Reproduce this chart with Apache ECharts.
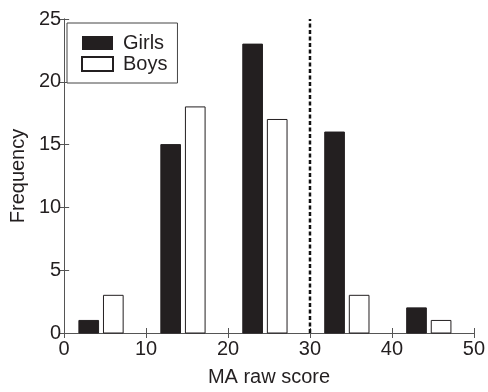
<!DOCTYPE html>
<html><head><meta charset="utf-8">
<script src="https://cdn.jsdelivr.net/npm/echarts@6/dist/echarts.min.js"></script>
<style>html,body{margin:0;padding:0;background:#fff}#c{width:488px;height:392px}</style>
</head><body><div id="c"></div>
<script>
var girlsX = [3, 13, 23, 33, 43];
var girlsY = [1, 15, 23, 16, 2];
var boysX = [6, 16, 26, 36, 46];
var boysY = [3, 18, 17, 3, 1];
var binWidth = 2.4;
var cutoff = 30;
var xTicks = [0, 10, 20, 30, 40, 50];
var yTicks = [0, 5, 10, 15, 20, 25];

var font = 'Liberation Sans, Arial, sans-serif';
var axisColor = '#555';
function pairs(xs, ys){ return xs.map(function(x,i){ return [x, ys[i]]; }); }
function rectItem(fill){
  return function(params, api){
    var x = api.value(0), y = api.value(1);
    var p0 = api.coord([x - binWidth/2, y]);
    var p1 = api.coord([x + binWidth/2, 0]);
    return {type:'rect', shape:{x:p0[0], y:p0[1], width:p1[0]-p0[0], height:p1[1]-p0[1]},
      style:{fill:fill, stroke:'#231f20', lineWidth:1}};
  };
}
var chart = echarts.init(document.getElementById('c'), null, {renderer:'canvas'});
chart.setOption({
  animation:false,
  grid:{left:63, right:13, top:19, bottom:55},
  legend:{
    orient:'vertical', left:67, top:23,
    padding:[10, 10, 9, 14], itemGap:1, itemWidth:31, itemHeight:14,
    borderColor:'#444', borderWidth:1, backgroundColor:'#fff',
    textStyle:{fontFamily:font, fontSize:20, lineHeight:20, color:'#231f20', padding:[0,0,0,5]},
    data:[{name:'Girls', icon:'rect'}, {name:'Boys', icon:'rect'}]
  },
  xAxis:[{
    type:'value', min:0, max:50, interval:10,
    name:'MA raw score', nameLocation:'middle', nameGap:34,
    nameTextStyle:{fontFamily:font, fontSize:20, color:'#231f20'},
    axisLine:{show:true, lineStyle:{color:axisColor, width:1}},
    axisTick:{show:true, inside:true, length:5, lineStyle:{color:axisColor}},
    axisLabel:{fontFamily:font, fontSize:20, color:'#231f20', margin:6},
    splitLine:{show:false}
  },{
    type:'value', min:0, max:50, interval:10, position:'top',
    axisLine:{show:true, lineStyle:{color:axisColor, width:1}},
    axisTick:{show:true, inside:true, length:5, lineStyle:{color:axisColor}},
    axisLabel:{show:false}, splitLine:{show:false}
  }],
  yAxis:[{
    type:'value', min:0, max:25, interval:5,
    name:'Frequency', nameLocation:'middle', nameGap:36, nameRotate:90,
    nameTextStyle:{fontFamily:font, fontSize:20, color:'#231f20'},
    axisLine:{show:true, lineStyle:{color:axisColor, width:1}},
    axisTick:{show:true, inside:true, length:5, lineStyle:{color:axisColor}},
    axisLabel:{fontFamily:font, fontSize:20, color:'#231f20', margin:3},
    splitLine:{show:false}
  },{
    type:'value', min:0, max:25, interval:5, position:'right',
    axisLine:{show:true, lineStyle:{color:axisColor, width:1}},
    axisTick:{show:true, inside:true, length:5, lineStyle:{color:axisColor}},
    axisLabel:{show:false}, splitLine:{show:false}
  }],
  series:[
    {name:'Girls', type:'custom', xAxisIndex:0, yAxisIndex:0, itemStyle:{color:'#231f20', borderColor:'#231f20'},
     renderItem:rectItem('#231f20'), data:pairs(girlsX, girlsY), z:3},
    {name:'Boys', type:'custom', xAxisIndex:0, yAxisIndex:0, itemStyle:{color:'#fff', borderColor:'#231f20', borderWidth:1},
     renderItem:rectItem('#fff'), data:pairs(boysX, boysY), z:3},
    {name:'cutoff', type:'line', xAxisIndex:0, yAxisIndex:0, symbol:'none',
     lineStyle:{color:'#111', width:2.5, type:[4,2.5]},
     data:[[cutoff, 0],[cutoff, 25]], z:2}
  ]
});
</script></body></html>
